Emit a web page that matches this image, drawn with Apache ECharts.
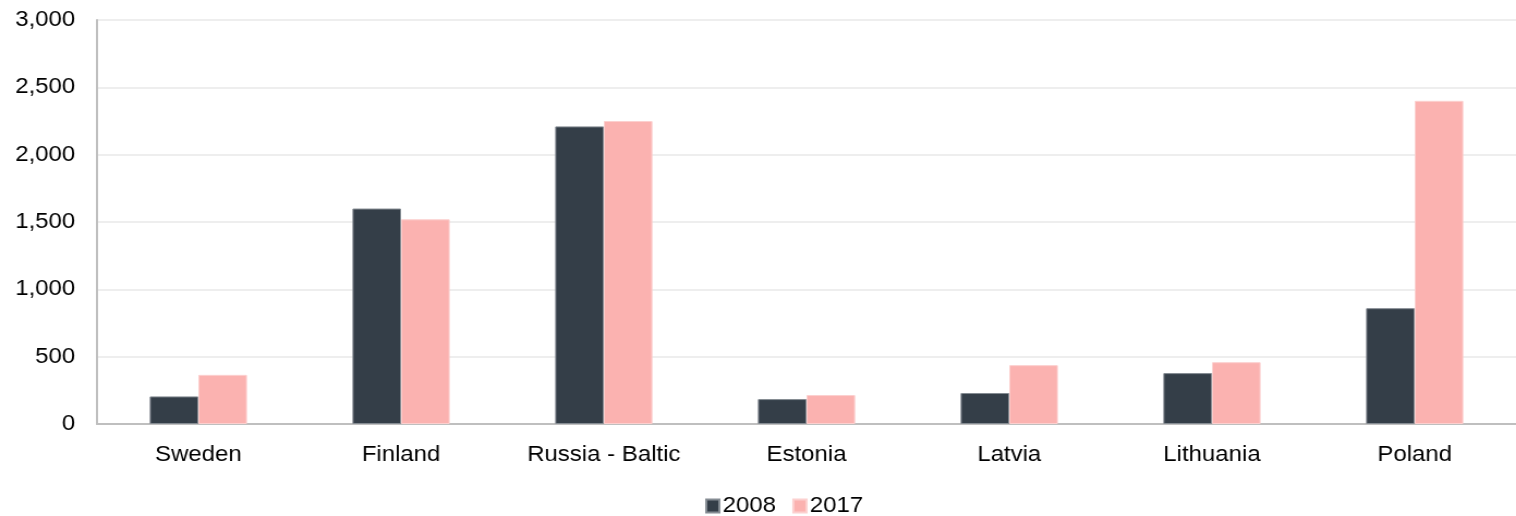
<!DOCTYPE html>
<html>
<head>
<meta charset="utf-8">
<script src="https://cdn.jsdelivr.net/npm/echarts@6/dist/echarts.min.js"></script>
<style>
  html, body { margin: 0; padding: 0; background: #fff; overflow: hidden; }
  /* The chart is laid out narrower and widened with a horizontal scale,
     which gives the text its wide, Excel-export look. */
  #chart { width: 1391px; height: 516px; transform: scaleX(1.0899); transform-origin: 0 0; }
</style>
</head>
<body>
<div id="chart"></div>
<script>
// Regions compared across two years
const categories = ['Sweden', 'Finland', 'Russia - Baltic', 'Estonia', 'Latvia', 'Lithuania', 'Poland'];
const values2008 = [205, 1600, 2210, 185, 230, 378, 860];
const values2017 = [365, 1520, 2250, 215, 437, 459, 2400];
const yTicks = { min: 0, max: 3000, interval: 500 };

const font = 'Liberation Sans, Arial, sans-serif';
const chart = echarts.init(document.getElementById('chart'));

chart.setOption({
  animation: false,
  textStyle: { fontFamily: font },
  grid: { left: 89, right: 0, top: 20, bottom: 92, containLabel: false },
  legend: {
    top: 490,
    left: 642,
    itemWidth: 12,
    itemHeight: 13,
    itemGap: 15,
    icon: 'rect',
    textStyle: { fontSize: 22, color: '#000', fontFamily: font, padding: [0, 0, 0, -2] },
    data: ['2008', '2017']
  },
  xAxis: {
    type: 'category',
    data: categories,
    axisLine: { lineStyle: { color: '#bfbfbf', width: 2 } },
    axisTick: { show: false },
    axisLabel: { color: '#000', fontSize: 22, margin: 20, fontFamily: font }
  },
  yAxis: {
    type: 'value',
    min: yTicks.min,
    max: yTicks.max,
    interval: yTicks.interval,
    axisLine: { show: true, lineStyle: { color: '#bfbfbf', width: 2 } },
    axisTick: { show: false },
    splitLine: { lineStyle: { color: '#eeeeee', width: 2 } },
    axisLabel: {
      color: '#000',
      fontSize: 22,
      margin: 20,
      fontFamily: font,
      formatter: v => v.toLocaleString('en-US')
    }
  },
  series: [
    {
      name: '2008',
      type: 'bar',
      data: values2008,
      barGap: '0%',
      barCategoryGap: '52%',
      itemStyle: { color: '#343e48', borderColor: '#858c93', borderWidth: 1 }
    },
    {
      name: '2017',
      type: 'bar',
      data: values2017,
      itemStyle: { color: '#fbb2b0', borderColor: '#fcd0cf', borderWidth: 1 }
    }
  ]
});
</script>
</body>
</html>
